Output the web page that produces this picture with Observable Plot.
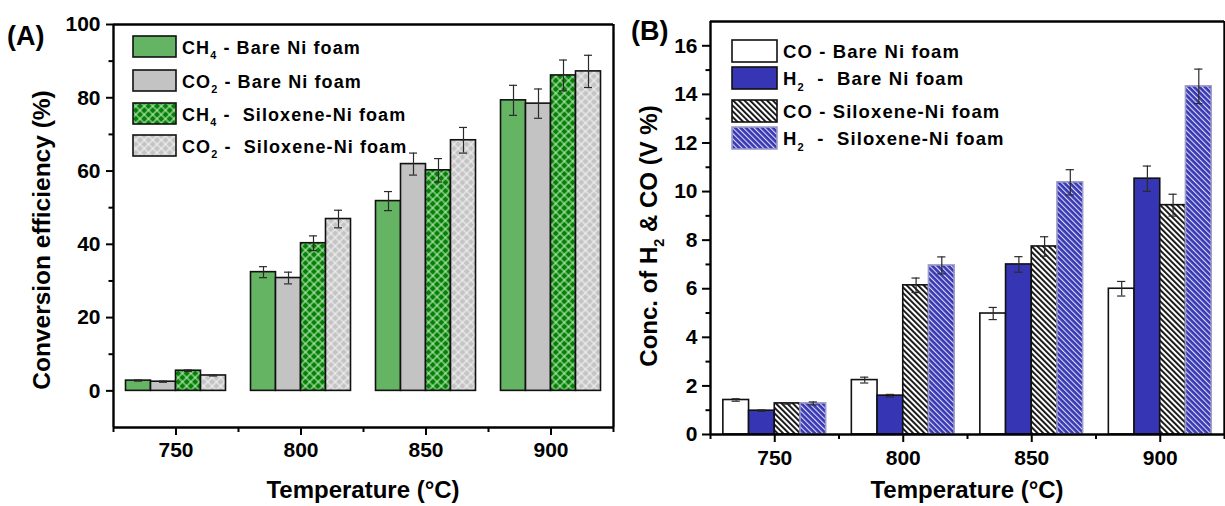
<!DOCTYPE html>
<html><head><meta charset="utf-8">
<script src="https://cdn.jsdelivr.net/npm/d3@7"></script>
<script src="https://cdn.jsdelivr.net/npm/@observablehq/plot@0.6"></script>
<style>
html,body{margin:0;padding:0;background:#fff;}
#wrap{position:relative;width:1225px;height:506px;overflow:hidden;background:#fff;}
#a,#b{position:absolute;top:0;}
#a{left:0;}
#b{left:620px;}
</style></head><body>
<svg width="0" height="0" style="position:absolute;left:0;top:0">
<defs>
 <pattern id="xGreen" patternUnits="userSpaceOnUse" width="6" height="6" patternTransform="rotate(45)">
  <rect width="6" height="6" fill="#058005"/>
  <path d="M0,3H6M3,0V6" stroke="#c8f0c8" stroke-width="1.1"/>
 </pattern>
 <pattern id="xGray" patternUnits="userSpaceOnUse" width="6" height="6" patternTransform="rotate(45)">
  <rect width="6" height="6" fill="#c4c4c4"/>
  <path d="M0,3H6M3,0V6" stroke="#f4f4f4" stroke-width="1.1"/>
 </pattern>
 <pattern id="dBlack" patternUnits="userSpaceOnUse" width="4" height="4" patternTransform="rotate(-45)">
  <rect width="4" height="4" fill="#ffffff"/>
  <rect x="0" width="1.9" height="4" fill="#111"/>
 </pattern>
 <pattern id="dBlue" patternUnits="userSpaceOnUse" width="3.8" height="4" patternTransform="rotate(-45)">
  <rect width="3.8" height="4" fill="#3838b4"/>
  <rect x="0" width="1.1" height="4" fill="#dcdcf4"/>
 </pattern>
</defs></svg>
<div id="wrap"><div id="a"></div><div id="b"></div></div>
<script>
// ---------------- data ----------------
const temps = [750, 800, 850, 900];
const xMinorTicks = [725, 775, 825, 875, 925];

// Panel A: conversion efficiency (%)
const seriesA = ["CH4 - Bare Ni foam", "CO2 - Bare Ni foam", "CH4 - Siloxene-Ni foam", "CO2 - Siloxene-Ni foam"];
const ch4Bare    = [2.8, 32.4, 51.8, 79.3];
const ch4BareErr = [0.15, 1.5, 2.6, 4.1];
const co2Bare    = [2.5, 30.8, 61.9, 78.4];
const co2BareErr = [0.15, 1.6, 3.0, 4.0];
const ch4Silox    = [5.5, 40.3, 60.2, 86.1];
const ch4SiloxErr = [0.2, 2.0, 3.2, 4.2];
const co2Silox    = [4.2, 46.9, 68.4, 87.2];
const co2SiloxErr = [0.15, 2.4, 3.5, 4.4];
const yTicksA = [0, 20, 40, 60, 80, 100];
const yMinorA = [10, 30, 50, 70, 90];

// Panel B: concentration of H2 & CO (V %)
const seriesB = ["CO - Bare Ni foam", "H2 - Bare Ni foam", "CO - Siloxene-Ni foam", "H2 - Siloxene-Ni foam"];
const coBare    = [1.42, 2.24, 4.98, 6.0];
const coBareErr = [0.05, 0.12, 0.25, 0.3];
const h2Bare    = [0.98, 1.6, 7.0, 10.53];
const h2BareErr = [0.03, 0.05, 0.32, 0.52];
const coSilox    = [1.28, 6.14, 7.74, 9.44];
const coSiloxErr = [0.03, 0.3, 0.4, 0.45];
const h2Silox    = [1.28, 6.96, 10.38, 14.33];
const h2SiloxErr = [0.06, 0.35, 0.52, 0.71];
const yTicksB = [0, 2, 4, 6, 8, 10, 12, 14, 16];
const yMinorB = [1, 3, 5, 7, 9, 11, 13, 15];

// ---------------- helpers ----------------
const barOffsets = [-20, -10, 0, 10];
const barWidth = 10;
function buildRows(valueLists, errLists) {
  const rows = [];
  valueLists.forEach((vals, s) => {
    vals.forEach((v, j) => rows.push({s, t: temps[j], v, e: errLists[s][j]}));
  });
  return rows;
}
const font = '"Liberation Sans", Arial, sans-serif';

function makePanel({rows, fills, strokes, width, height, margins, yDomain, yTicks, yMinor, yTickSize, yTickPad, xTickPad}) {
  const bars = fills.map((f, s) => Plot.rect(rows.filter(r => r.s === s), {
    x1: d => d.t + barOffsets[s], x2: d => d.t + barOffsets[s] + barWidth,
    y1: 0, y2: d => d.v, fill: f, stroke: strokes[s], strokeWidth: 1.6
  }));
  const cx = d => d.t + barOffsets[d.s] + barWidth / 2;
  return Plot.plot({
    width, height,
    marginLeft: margins[0], marginRight: margins[1], marginTop: margins[2], marginBottom: margins[3],
    x: {domain: [725, 925], label: null},
    y: {domain: yDomain, label: null},
    style: {fontFamily: font, fontSize: "21px", fontWeight: "bold", color: "black", background: "transparent", overflow: "visible"},
    marks: [
      ...bars,
      Plot.ruleX(rows, {x: cx, y1: d => d.v - d.e, y2: d => d.v + d.e, stroke: "#2a2a2a", strokeWidth: 1.2}),
      Plot.ruleY(rows, {y: d => d.v + d.e, x1: d => cx(d) - 1.6, x2: d => cx(d) + 1.6, stroke: "#2a2a2a", strokeWidth: 1.2}),
      Plot.ruleY(rows, {y: d => d.v - d.e, x1: d => cx(d) - 1.6, x2: d => cx(d) + 1.6, stroke: "#2a2a2a", strokeWidth: 1.2}),
      Plot.axisY(yTicks, {tickSize: yTickSize, tickPadding: yTickPad, fontSize: 21, fontWeight: "bold", stroke: "black", strokeWidth: 2, label: null, tickFormat: d => String(d)}),
      Plot.axisY(yMinor, {tickSize: 4.5, stroke: "black", strokeWidth: 2, label: null, tickFormat: () => ""}),
      Plot.axisX(temps, {tickSize: 8, tickPadding: xTickPad, fontSize: 21, fontWeight: "bold", stroke: "black", strokeWidth: 2, label: null, tickFormat: d => String(d)}),
      Plot.axisX(xMinorTicks, {tickSize: 5, stroke: "black", strokeWidth: 2, label: null, tickFormat: () => ""}),
      Plot.ruleY(yDomain, {stroke: "black", strokeWidth: 2.4}),
      Plot.ruleX([725, 925], {stroke: "black", strokeWidth: 2.4})
    ]
  });
}

// rich text with subscripts: parts = [[text, isSub], ...]
function addText(svg, {x, y, parts, size, anchor = "start", rotate = 0, spacing = 0}) {
  const t = d3.select(svg).append("text")
    .attr("transform", `translate(${x},${y}) rotate(${rotate})`)
    .attr("text-anchor", anchor)
    .attr("font-size", size)
    .attr("font-weight", "bold")
    .attr("fill", "black")
    .style("font-family", font)
    .style("white-space", "pre")
    .style("letter-spacing", spacing + "px");
  let prevSub = false;
  parts.forEach(([str, sub]) => {
    const ts = t.append("tspan").text(str);
    if (sub && !prevSub) ts.attr("dy", size * 0.3).attr("font-size", size * 0.6);
    else if (!sub && prevSub) ts.attr("dy", -size * 0.3);
    prevSub = sub;
  });
  return t;
}
function addSwatch(svg, x, y, w, h, fill, stroke) {
  d3.select(svg).append("rect").attr("x", x).attr("y", y).attr("width", w).attr("height", h)
    .attr("fill", fill).attr("stroke", stroke).attr("stroke-width", 1.6);
}

// ---------------- panel A ----------------
const fillsA = ["#64b464", "#c3c3c3", "url(#xGreen)", "url(#xGray)"];
const strokesA = ["#111", "#111", "#111", "#111"];
const rowsA = buildRows([ch4Bare, co2Bare, ch4Silox, co2Silox], [ch4BareErr, co2BareErr, ch4SiloxErr, co2SiloxErr]);
const svgA = makePanel({rows: rowsA, fills: fillsA, strokes: strokesA, width: 620, height: 506,
  margins: [113, 7, 24, 79], yDomain: [-10, 100], yTicks: yTicksA, yMinor: yMinorA, yTickSize: 7, yTickPad: 6, xTickPad: 7});
document.getElementById("a").appendChild(svgA);
addText(svgA, {x: 7, y: 45, size: 27, parts: [["(A)", false]]});
addText(svgA, {x: 363, y: 498, size: 24, anchor: "middle", parts: [["Temperature (°C)", false]]});
addText(svgA, {x: 50, y: 240, size: 24.5, anchor: "middle", rotate: -90, parts: [["Conversion efficiency (%)", false]]});
const legA = [
  [["CH", false], ["4", true], [" - Bare Ni foam", false]],
  [["CO", false], ["2", true], [" - Bare Ni foam", false]],
  [["CH", false], ["4", true], [" -  Siloxene-Ni foam", false]],
  [["CO", false], ["2", true], [" -  Siloxene-Ni foam", false]]
];
const legAy = [36, 70, 103, 135];
legA.forEach((parts, i) => {
  addSwatch(svgA, 133, legAy[i], 43, 21, fillsA[i], strokesA[i]);
  addText(svgA, {x: 182, y: legAy[i] + 18, size: 18, spacing: 1.1, parts});
});

// ---------------- panel B ----------------
const fillsB = ["#ffffff", "#3636b4", "url(#dBlack)", "url(#dBlue)"];
const strokesB = ["#111", "#111", "#111", "#9c9cc8"];
const rowsB = buildRows([coBare, h2Bare, coSilox, h2Silox], [coBareErr, h2BareErr, coSiloxErr, h2SiloxErr]);
const svgB = makePanel({rows: rowsB, fills: fillsB, strokes: strokesB, width: 605, height: 506,
  margins: [90, 1, 21, 72], yDomain: [0, 17], yTicks: yTicksB, yMinor: yMinorB, yTickSize: 8, yTickPad: 5, xTickPad: 7.5});
document.getElementById("b").appendChild(svgB);
addText(svgB, {x: 11, y: 40, size: 27, parts: [["(B)", false]]});
addText(svgB, {x: 347, y: 498, size: 24, anchor: "middle", parts: [["Temperature (°C)", false]]});
addText(svgB, {x: 37, y: 236, size: 24, anchor: "middle", rotate: -90,
  parts: [["Conc. of H", false], ["2", true], [" & CO (V %)", false]]});
const legB = [
  [["CO - Bare Ni foam", false]],
  [["H", false], ["2", true], ["  -  Bare Ni foam", false]],
  [["CO - Siloxene-Ni foam", false]],
  [["H", false], ["2", true], ["  -  Siloxene-Ni foam", false]]
];
const legBy = [40, 67, 100, 127];
legB.forEach((parts, i) => {
  addSwatch(svgB, 112, legBy[i], 45, 22, fillsB[i], strokesB[i]);
  addText(svgB, {x: 163, y: legBy[i] + 18, size: 18.5, spacing: 1.1, parts});
});
</script>
</body></html>
